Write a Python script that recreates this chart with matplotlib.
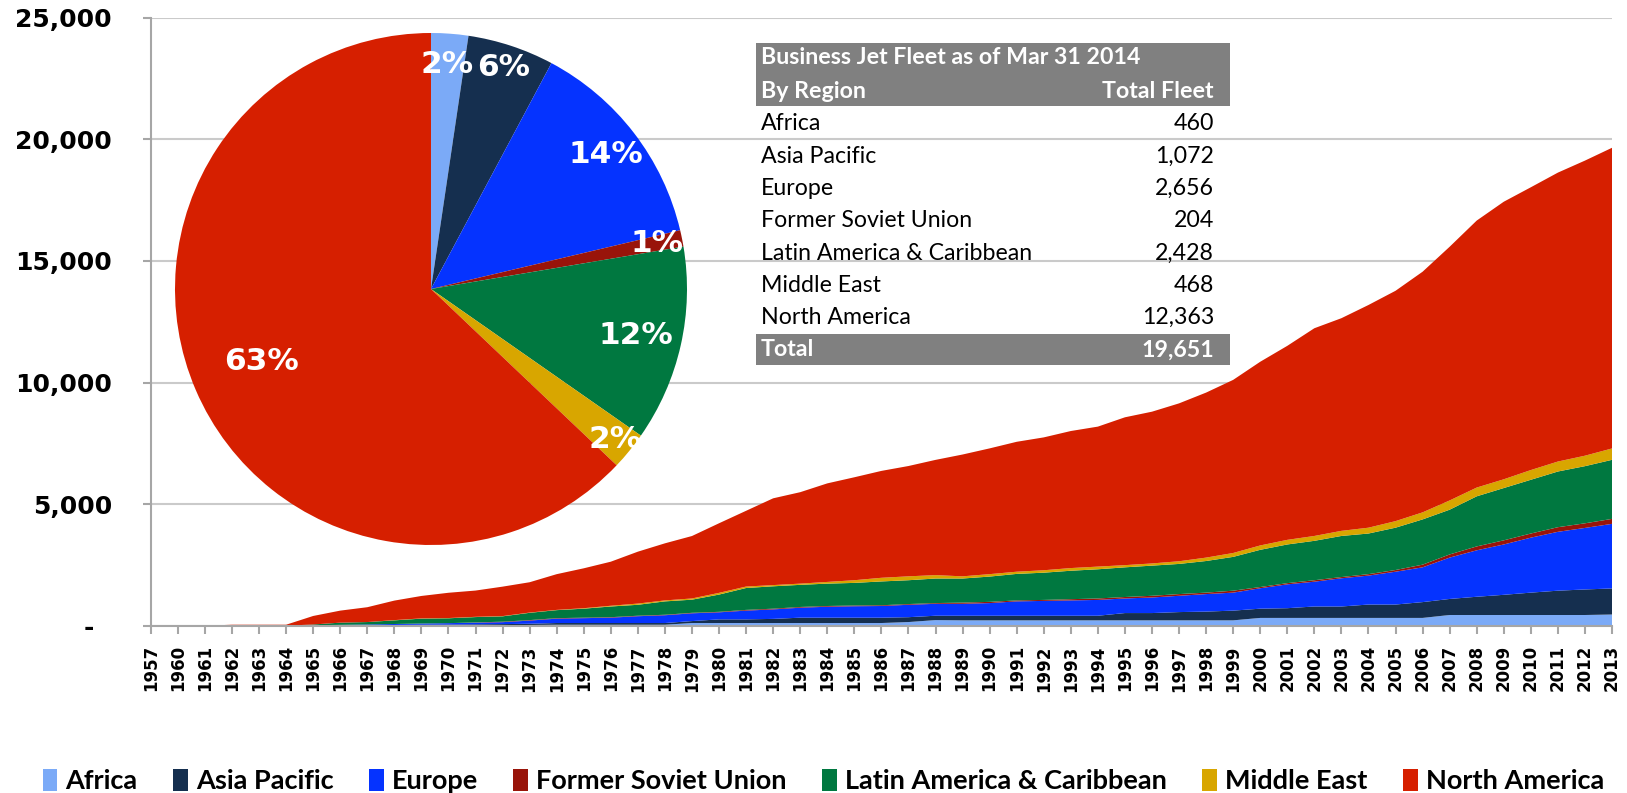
import numpy as np
import matplotlib.pyplot as plt
from matplotlib.patches import Patch, Rectangle

# categories (1958 and 1959 are not in the source)
years = ['1957'] + [str(y) for y in range(1960, 2014)]

regions = ['Africa', 'Asia Pacific', 'Europe', 'Former Soviet Union',
           'Latin America & Caribbean', 'Middle East', 'North America']
colors = ['#7BAAF7', '#152F4F', '#0533FF', '#99140A', '#007840', '#D8A600', '#D61F00']

# fleet by region per year
africa = [0, 0, 0, 0, 0, 0, 0, 0, 5, 5, 10, 10, 15, 20, 30,
          40, 40, 40, 40, 40, 110, 110, 110, 110, 110, 110, 110, 110, 150, 230,
          220, 220, 220, 220, 220, 220, 220, 220, 220, 220, 220,
          320, 320, 320, 320, 320, 320, 320, 440, 440, 440, 440, 440, 440, 460]
asia_pacific = [0, 0, 0, 0, 0, 0, 10, 15, 20, 25, 30, 35, 40, 45, 50,
                70, 70, 70, 70, 70, 80, 150, 150, 170, 220, 220, 220, 220, 200, 180,
                190, 190, 190, 190, 190, 190,
                300, 300, 340, 360, 400, 380, 400, 470, 470, 550, 550, 650, 660, 750,
                830, 920, 1000, 1050, 1072]
europe = [0, 0, 0, 0, 0, 0, 10, 20, 25, 40, 50, 60, 70, 80, 130,
          180, 200, 220, 280, 320, 320, 290, 360, 390, 410, 450, 470, 480, 510, 490,
          490, 520, 590, 610, 630, 650,
          600, 640, 670, 720, 740, 840, 980, 1020, 1160, 1190, 1350, 1430, 1700, 1910,
          2070, 2260, 2420, 2530, 2656]
former_soviet = [0, 0, 0, 0, 0, 0, 0, 0, 0, 0, 0, 0, 10,
                 20, 20, 20, 20, 20, 20, 20, 20, 20, 30, 30, 30, 30, 30, 30, 30, 30,
                 50, 50, 40, 40, 50, 60,
                 60, 70, 70, 60, 80, 50, 50, 60, 50, 60, 70, 110, 130, 160,
                 170, 170, 190, 190, 204]
latin_america = [0, 0, 0, 0, 0, 0, 30, 90, 100, 150, 200, 200, 220, 220, 300,
                 330, 370, 440, 450, 550, 540, 710, 900, 920, 910, 920, 930, 980, 980, 1010,
                 990, 1040, 1090, 1120, 1170, 1200,
                 1220, 1240, 1240, 1300, 1390, 1530, 1590, 1620, 1690, 1670, 1740, 1860,
                 1840, 2060, 2150, 2210, 2290, 2350, 2428]
middle_east = [0, 0, 0, 0, 0, 0, 0, 0, 0, 10, 10, 10, 10, 10, 10, 10,
               20, 30, 50, 40, 50, 70, 60, 50, 50, 70, 110, 150, 160, 140,
               90, 100, 90, 100, 110, 110,
               90, 90, 110, 140, 160, 180, 190, 200, 210, 240, 270, 290, 380, 360,
               360, 400, 410, 430, 468]
north_america = [0, 0, 0, 40, 40, 40, 350, 495, 610, 802, 923, 1039, 1080, 1211, 1247,
                 1469, 1640, 1812, 2134, 2347, 2568, 2862, 3115, 3568, 3760, 4052, 4233,
                 4395, 4536, 4738, 5009, 5171, 5342, 5463, 5635, 5756,
                 6079, 6240, 6492, 6785, 7118, 7553, 7977, 8541, 8744, 9157, 9471, 9895,
                 10432, 10978, 11413, 11627, 11880, 12134, 12363]

# table / pie data
fleet_2014 = [460, 1072, 2656, 204, 2428, 468, 12363]
pie_labels = ['2%', '6%', '14%', '1%', '12%', '2%', '63%']

W, H = 1627, 793
fig = plt.figure(figsize=(W / 100, H / 100), dpi=100)

# main stacked area
ax = fig.add_axes([150.8 / W, 1 - 625.7 / H, (1612 - 150.8) / W, (625.7 - 17.7) / H])
x = np.arange(len(years))
ax.stackplot(x, africa, asia_pacific, europe, former_soviet, latin_america,
             middle_east, north_america, colors=colors, linewidth=0)
ax.set_xlim(0, len(years) - 1)
ax.set_ylim(0, 25000)
yt = list(range(0, 25001, 5000))
ax.set_yticks(yt)
ax.set_yticklabels(['-  '] + [f'{v:,}' for v in yt[1:]], fontsize=18, fontweight='bold')
ax.set_xticks(x)
ax.set_xticklabels(years, rotation=90, fontsize=12, fontweight='bold')
ax.grid(axis='y', color='#CACACA', lw=1.5)
ax.set_axisbelow(True)
ax.tick_params(axis='y', length=6, width=1.5, color='#A6A6A6', pad=22)
ax.tick_params(axis='x', length=6, width=1.5, color='#A6A6A6', pad=8)
for s in ['top', 'right']:
    ax.spines[s].set_visible(False)
for s in ['left', 'bottom']:
    ax.spines[s].set_color('#A6A6A6')
    ax.spines[s].set_linewidth(1.5)

# pie inset
cx, cy, r = 431, 289, 256
pax = fig.add_axes([(cx - r) / W, 1 - (cy + r) / H, 2 * r / W, 2 * r / H])
wedges, _ = pax.pie(fleet_2014, colors=colors, startangle=90, counterclock=False,
                    radius=1, wedgeprops=dict(linewidth=0))
pax.set_xlim(-1, 1)
pax.set_ylim(-1, 1)
pax.set_aspect('equal')
pax.axis('off')
label_dist = [0.88, 0.91, 0.86, 0.90, 0.82, 0.93, 0.72]
for w, lab, d in zip(wedges, pie_labels, label_dist):
    th = np.deg2rad((w.theta1 + w.theta2) / 2)
    pax.text(d * np.cos(th), d * np.sin(th), lab, ha='center', va='center',
             color='white', fontsize=22.5, fontweight='bold')

# table overlay (pixel coordinates)
ov = fig.add_axes([0, 0, 1, 1])
ov.set_xlim(0, W)
ov.set_ylim(H, 0)
ov.axis('off')
gray = '#808080'
tx0, tx1 = 756, 1230
ov.add_patch(Rectangle((tx0, 43), tx1 - tx0, 63, color=gray, lw=0))
ov.add_patch(Rectangle((tx0, 334), tx1 - tx0, 31, color=gray, lw=0))
tfont = dict(family='Lato', fontsize=16.7)
ov.text(761, 58, 'Business Jet Fleet as of Mar 31 2014', color='white',
        fontweight='bold', va='center', **tfont)
ov.text(761, 91, 'By Region', color='white', fontweight='bold', va='center', **tfont)
ov.text(1214, 91, 'Total Fleet', color='white', fontweight='bold', va='center',
        ha='right', **tfont)
row_y = 124
for name, val in zip(regions, fleet_2014):
    ov.text(761, row_y, name, color='black', va='center', **tfont)
    ov.text(1214, row_y, f'{val:,}', color='black', va='center', ha='right', **tfont)
    row_y += 32.3
ov.text(761, 350, 'Total', color='white', fontweight='bold', va='center', **tfont)
ov.text(1214, 350, f'{sum(fleet_2014):,}', color='white', fontweight='bold',
        va='center', ha='right', **tfont)

# legend
handles = [Patch(facecolor=c, edgecolor='none') for c in colors]
fig.legend(handles, regions, loc='center', bbox_to_anchor=(0.506, 1 - 781 / H),
           ncol=7, frameon=False, prop=dict(family='Lato', weight='bold', size=19.5),
           handlelength=0.55, handleheight=0.9, handletextpad=0.3, columnspacing=1.3)

fig.savefig('out.png', dpi=100)
